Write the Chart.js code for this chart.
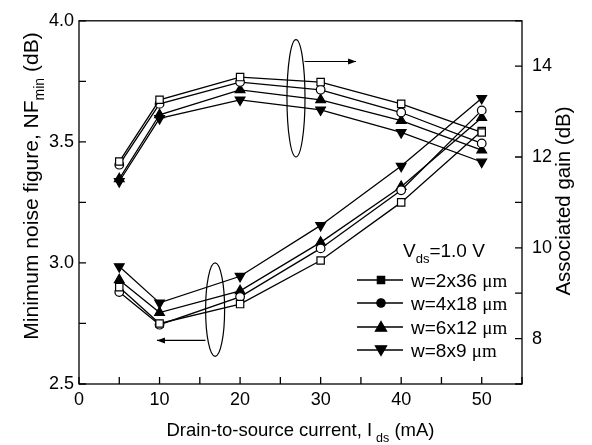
<!DOCTYPE html>
<html><head><meta charset="utf-8">
<script src="https://cdn.jsdelivr.net/npm/chart.js@4.4.1/dist/chart.umd.min.js"></script>
<style>html,body{margin:0;padding:0;background:#fff}#wrap{width:592px;height:445px}</style>
</head><body><div id="wrap"><canvas id="c" width="592" height="445"></canvas></div>
<script>
// ---- data ----
const currents = [5, 10, 20, 30, 40, 50];
const nf_2x36 = [2.90, 2.75, 2.83, 3.01, 3.25, 3.545];
const nf_4x18 = [2.88, 2.745, 2.86, 3.06, 3.30, 3.63];
const nf_6x12 = [2.93, 2.795, 2.885, 3.085, 3.315, 3.60];
const nf_8x9  = [2.985, 2.835, 2.945, 3.155, 3.40, 3.68];
const ga_2x36 = [11.90, 13.26, 13.76, 13.65, 13.17, 12.54];
const ga_4x18 = [11.83, 13.17, 13.65, 13.48, 12.98, 12.30];
const ga_6x12 = [11.52, 12.93, 13.48, 13.26, 12.80, 12.15];
const ga_8x9  = [11.46, 12.85, 13.26, 13.04, 12.54, 11.89];
const seriesLabels = ['w=2x36 ', 'w=4x18 ', 'w=6x12 ', 'w=8x9 '];
const xTickLabels = [0, 10, 20, 30, 40, 50];
const nfTickLabels = ['2.5', '3.0', '3.5', '4.0'];
const gainTickLabels = [8, 10, 12, 14];
// annotation ellipses (data units: x in mA, y in NF dB)
const upperEllipse = {cx: 26.94, cy: 3.680, rx: 1.12, ry: 0.242};
const upperArrow = {x1: 28.0, x2: 34.4, y: 3.832};
const lowerEllipse = {cx: 16.9, cy: 2.807, rx: 1.18, ry: 0.193};
const lowerArrow = {x1: 15.7, x2: 9.68, y: 2.680};

const styles = [
  {pointStyle: 'rect', radius: 5.2, fill: '#fff', rot: 0},
  {pointStyle: 'circle', radius: 4.3, fill: '#fff', rot: 0},
  {pointStyle: 'triangle', radius: 5.6, fill: '#000', rot: 0},
  {pointStyle: 'triangle', radius: 5.6, fill: '#000', rot: 180}
];
const nfSets = [nf_2x36, nf_4x18, nf_6x12, nf_8x9];
const gaSets = [ga_2x36, ga_4x18, ga_6x12, ga_8x9];

function mk(vals, i, axis) {
  const s = styles[i];
  return {
    label: seriesLabels[i] + (axis === 'y' ? 'NF' : 'Ga'),
    data: currents.map((c, k) => ({x: c, y: vals[k]})),
    yAxisID: axis,
    borderColor: '#000', borderWidth: 1.3, tension: 0,
    pointStyle: s.pointStyle, pointRadius: s.radius, pointRotation: s.rot,
    pointBackgroundColor: s.fill, pointBorderColor: '#000', pointBorderWidth: 1.2,
    pointHoverRadius: s.radius
  };
}
const datasets = [];
gaSets.forEach((v, i) => datasets.push(mk(v, i, 'y2')));
nfSets.forEach((v, i) => datasets.push(mk(v, i, 'y')));

const SANS = '"Liberation Sans", Arial, sans-serif';
const SERIF = '"Liberation Serif", "Times New Roman", serif';

function drawRich(ctx, parts, x, y, rot) {
  ctx.save();
  ctx.translate(x, y);
  if (rot) ctx.rotate(rot);
  let w = 0;
  parts.forEach(p => { ctx.font = p.font; p.w = ctx.measureText(p.t).width; w += p.w + (p.gap || 0); });
  let cx = -w / 2;
  ctx.fillStyle = '#000';
  ctx.textBaseline = 'alphabetic';
  ctx.textAlign = 'left';
  parts.forEach(p => { ctx.font = p.font; cx += (p.gap || 0); ctx.fillText(p.t, cx, p.dy || 0); cx += p.w; });
  ctx.restore();
}
function drawRichLeft(ctx, parts, x, y) {
  let cx = x;
  ctx.fillStyle = '#000'; ctx.textBaseline = 'alphabetic'; ctx.textAlign = 'left';
  parts.forEach(p => { ctx.font = p.font; ctx.fillText(p.t, cx, y + (p.dy || 0)); cx += ctx.measureText(p.t).width; });
}
function marker(ctx, style, x, y, r, fill) {
  ctx.save();
  ctx.fillStyle = fill; ctx.strokeStyle = '#000'; ctx.lineWidth = 1.2;
  ctx.beginPath();
  if (style === 'rect') { const s = r * Math.SQRT1_2; ctx.rect(x - s, y - s, 2 * s, 2 * s); }
  else if (style === 'circle') { ctx.arc(x, y, r, 0, Math.PI * 2); }
  else if (style === 'up') { ctx.moveTo(x, y - r); ctx.lineTo(x + r * 0.866, y + r * 0.5); ctx.lineTo(x - r * 0.866, y + r * 0.5); ctx.closePath(); }
  else { ctx.moveTo(x, y + r); ctx.lineTo(x + r * 0.866, y - r * 0.5); ctx.lineTo(x - r * 0.866, y - r * 0.5); ctx.closePath(); }
  ctx.fill(); ctx.stroke();
  ctx.restore();
}
function arrow(ctx, x1, y1, x2, y2) {
  ctx.beginPath(); ctx.moveTo(x1, y1); ctx.lineTo(x2, y2); ctx.stroke();
  const dir = Math.sign(x2 - x1);
  ctx.beginPath(); ctx.moveTo(x2, y2); ctx.lineTo(x2 - dir * 8, y2 - 3); ctx.lineTo(x2 - dir * 8, y2 + 3); ctx.closePath(); ctx.fill();
}

const decor = {
  id: 'decor',
  afterDraw(chart) {
    const ctx = chart.ctx, ca = chart.chartArea;
    const xs = chart.scales.x, ys = chart.scales.y, y2 = chart.scales.y2;
    ctx.save();
    ctx.strokeStyle = '#000'; ctx.fillStyle = '#000'; ctx.lineWidth = 1.3;
    // frame
    ctx.strokeRect(ca.left, ca.top, ca.right - ca.left, ca.bottom - ca.top);
    // inward ticks
    const TL = 7;
    ctx.beginPath();
    xs.ticks.forEach(t => { const p = xs.getPixelForValue(t.value); ctx.moveTo(p, ca.bottom); ctx.lineTo(p, ca.bottom - TL); });
    ys.ticks.forEach(t => { const p = ys.getPixelForValue(t.value); ctx.moveTo(ca.left, p); ctx.lineTo(ca.left + TL, p); });
    y2.ticks.forEach(t => { const p = y2.getPixelForValue(t.value); ctx.moveTo(ca.right, p); ctx.lineTo(ca.right - TL, p); });
    ctx.stroke();
    // ellipses + arrows
    ctx.lineWidth = 1.2;
    [[upperEllipse, upperArrow], [lowerEllipse, lowerArrow]].forEach(([e, a]) => {
      const cx = xs.getPixelForValue(e.cx), cy = ys.getPixelForValue(e.cy);
      const rx = Math.abs(xs.getPixelForValue(e.cx + e.rx) - cx), ry = Math.abs(ys.getPixelForValue(e.cy + e.ry) - cy);
      ctx.beginPath(); ctx.ellipse(cx, cy, rx, ry, 0, 0, Math.PI * 2); ctx.stroke();
      const ay = ys.getPixelForValue(a.y);
      arrow(ctx, xs.getPixelForValue(a.x1), ay, xs.getPixelForValue(a.x2), ay);
    });
    // axis titles
    const tf = '18.5px ' + SANS, tsub = '12.5px ' + SANS;
    drawRich(ctx, [
      {t: 'Drain-to-source current, I', font: tf},
      {t: 'ds', font: tsub, dy: 6, gap: 4},
      {t: ' (mA)', font: tf}
    ], (ca.left + ca.right) / 2, 436, 0);
    const yf = '21px ' + SANS, ysub = '14px ' + SANS;
    drawRich(ctx, [
      {t: 'Minimum noise figure, NF', font: yf},
      {t: 'min', font: ysub, dy: 6},
      {t: ' (dB)', font: yf}
    ], 38, 186, -Math.PI / 2);
    drawRich(ctx, [{t: 'Associated gain (dB)', font: '20.5px ' + SANS}], 570, 201, -Math.PI / 2);
    // legend
    const lf = '19px ' + SANS, lsub = '13px ' + SANS, mu = '19px ' + SERIF;
    const lx = ca.left + 324;
    drawRichLeft(ctx, [{t: 'V', font: lf}, {t: 'ds', font: lsub, dy: 6}, {t: '=1.0 V', font: lf}], lx, 257);
    const rows = [280, 303, 327, 350];
    const lstyles = ['rect', 'circle', 'up', 'down'];
    const lrad = [5.2, 4.2, 6.5, 6.5];
    rows.forEach((ry, i) => {
      ctx.lineWidth = 1.3; ctx.strokeStyle = '#000';
      ctx.beginPath(); ctx.moveTo(ca.left + 278, ry); ctx.lineTo(ca.left + 324, ry); ctx.stroke();
      marker(ctx, lstyles[i], ca.left + 302, ry + (i === 2 ? 1 : (i === 3 ? -1 : 0)), lrad[i], '#000');
      drawRichLeft(ctx, [{t: seriesLabels[i], font: lf}, {t: '\u03bcm', font: mu}], ca.left + 332, ry + 7);
    });
    ctx.restore();
  }
};

new Chart(document.getElementById('c'), {
  type: 'line',
  data: {datasets},
  options: {
    responsive: false, animation: false, devicePixelRatio: 1,
    layout: {padding: {top: 18, left: 0, right: 0, bottom: 0}},
    plugins: {legend: {display: false}, tooltip: {enabled: false}},
    scales: {
      x: {
        type: 'linear', min: 0, max: 55,
        grid: {display: false, drawTicks: false}, border: {display: false},
        ticks: {stepSize: 5, autoSkip: false, maxRotation: 0, padding: 5, color: '#000',
          font: {family: SANS, size: 18},
          callback: v => xTickLabels.includes(v) ? String(v) : ''},
        afterFit: s => { s.height = 61; }
      },
      y: {
        type: 'linear', position: 'left', min: 2.5, max: 4.0,
        grid: {display: false, drawTicks: false}, border: {display: false},
        ticks: {stepSize: 0.25, autoSkip: false, padding: 5, color: '#000',
          font: {family: SANS, size: 18},
          callback: v => { const s = v.toFixed(2); const t = v.toFixed(1); return (s.endsWith('0') && nfTickLabels.includes(t)) ? t : ''; }},
        afterFit: s => { s.width = 79; }
      },
      y2: {
        type: 'linear', position: 'right', min: 7, max: 15,
        grid: {display: false, drawTicks: false}, border: {display: false},
        ticks: {stepSize: 1, autoSkip: false, padding: 10, color: '#000',
          font: {family: SANS, size: 18},
          callback: v => gainTickLabels.includes(v) ? String(v) : ''},
        afterFit: s => { s.width = 70; }
      }
    }
  },
  plugins: [decor]
});
</script></body></html>
